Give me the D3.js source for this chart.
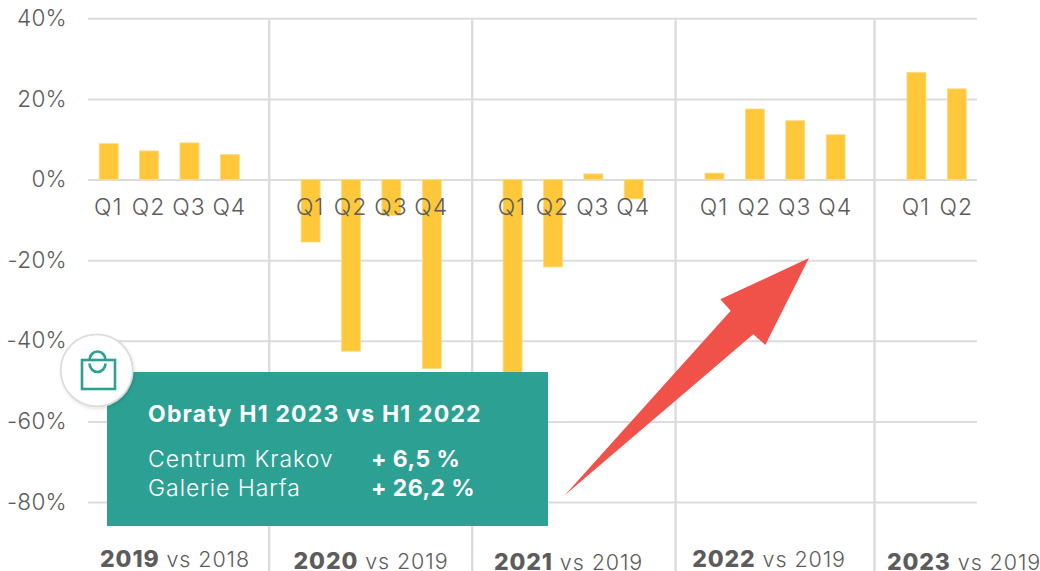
<!DOCTYPE html>
<html><head><meta charset="utf-8">
<script src="https://cdn.jsdelivr.net/npm/d3@7"></script>
<style>html,body{margin:0;padding:0;background:#fff}svg{display:block}text{font-family:Inter,sans-serif}</style>
</head><body><svg id="c" width="1040" height="571"></svg>
<script>
const years = ["2019","2020","2021","2022","2023"];
const compare = ["vs 2018","vs 2019","vs 2019","vs 2019","vs 2019"];
const quarters = ["Q1","Q2","Q3","Q4"];
const v2019 = [8.9,7.1,9.1,6.2];
const v2020 = [-15.5,-42.6,-8.9,-46.9];
const v2021 = [-50.0,-21.7,1.4,-4.8];
const v2022 = [1.6,17.5,14.6,11.1];
const v2023 = [26.6,22.5];
const yTicks = [40,20,0,-20,-40,-60,-80];
const boxTitle = "Obraty H1 2023 vs H1 2022";
const boxNames = ["Centrum Krakov","Galerie Harfa"];
const boxValues = ["+ 6,5 %","+ 26,2 %"];

const allValues = [v2019,v2020,v2021,v2022,v2023];
const slots = [];
const bars = [];
allValues.forEach((vals,i)=>{
  vals.forEach((v,q)=>{const k=years[i]+quarters[q];slots.push(k);bars.push({k,v});});
  if(i<allValues.length-1) slots.push("gap"+years[i]);
});
const svg = d3.select("#c");
const defs = svg.append("defs");
const f = defs.append("filter").attr("id","sh").attr("x","-30%").attr("y","-30%").attr("width","160%").attr("height","160%");
f.append("feDropShadow").attr("dx",1).attr("dy",1.5).attr("stdDeviation",1.5).attr("flood-color","#000").attr("flood-opacity",0.12);
const x = d3.scaleBand().domain(slots).range([88.5,977]);
const y = d3.scaleLinear().domain([40,-80]).range([18.3,502]);
const grid="#dcdcdc", ink="#5c5c5c", teal="#2ca093";

// horizontal grid + y labels
const ya = svg.append("g").attr("transform","translate(88,0)")
  .call(d3.axisLeft(y).tickValues(yTicks).tickFormat(d=>d+"%").tickSize(-889).tickPadding(21));
ya.select(".domain").remove();
ya.selectAll("line").attr("stroke",grid).attr("stroke-width",2);
ya.selectAll("text").attr("fill",ink).attr("font-size",22.5).attr("font-weight",300).attr("dy","0.32em").attr("letter-spacing",0.3);

// vertical separators
const sepNudge=[-1,0,1.5,-1.5];
svg.append("g").selectAll("line").data(years.slice(0,4)).join("line")
  .attr("x1",(d,i)=>x("gap"+d)+x.bandwidth()/2+sepNudge[i])
  .attr("x2",(d,i)=>x("gap"+d)+x.bandwidth()/2+sepNudge[i])
  .attr("y1",18).attr("y2",571).attr("stroke",grid).attr("stroke-width",2.4);

// bars
svg.append("g").selectAll("rect").data(bars).join("rect")
  .attr("x",d=>x(d.k)+x.bandwidth()/2-9.5)
  .attr("width",19)
  .attr("y",d=>y(Math.max(d.v,0)))
  .attr("height",d=>Math.abs(y(d.v)-y(0)))
  .attr("fill","#fec83a").attr("stroke","#fbdc8a").attr("stroke-width",0.8);

// quarter labels
const xa = svg.append("g").attr("transform","translate(0,201)")
  .call(d3.axisBottom(x).tickValues(bars.map(d=>d.k)).tickFormat(d=>d.slice(4)).tickSize(0).tickPadding(0));
xa.select(".domain").remove();
xa.selectAll("text").attr("fill",ink).attr("font-size",23).attr("font-weight",300).attr("dy","0.62em").attr("dx",-0.5).attr("letter-spacing",1);

// year labels
const yearCx=[175,371,568.5,769,964], yearBase=[567,569,570,567,570];
const yl = svg.append("g").selectAll("text").data(years).join("text")
  .attr("x",(d,i)=>yearCx[i]).attr("y",(d,i)=>yearBase[i]).attr("text-anchor","middle")
  .attr("fill",ink).attr("font-size",21.5).attr("font-weight",300).attr("letter-spacing",0.9);
yl.append("tspan").attr("font-weight",800).attr("font-size",23).text(d=>d);
yl.append("tspan").text((d,i)=>" "+compare[i]);

// arrow
const arrow=[[809,258],[720.3,299.3],[730.7,310.7],[565,495],[753.3,334.3],[765.3,345]];
svg.append("path").attr("d",d3.line()(arrow)+"Z").attr("fill","#f0524a");

// info box
svg.append("rect").attr("x",107).attr("y",372).attr("width",441).attr("height",154).attr("fill",teal);
svg.append("text").attr("x",148).attr("y",422).attr("fill","#fff").attr("font-weight",700).attr("font-size",23).attr("letter-spacing",1.2).text(boxTitle);
svg.append("g").selectAll("text").data(boxNames).join("text")
  .attr("x",148).attr("y",(d,i)=>467+i*29).attr("fill","#fff").attr("font-size",23).attr("font-weight",300).attr("letter-spacing",0.95).text(d=>d);
svg.append("g").selectAll("text").data(boxValues).join("text")
  .attr("x",371).attr("y",(d,i)=>467+i*29).attr("fill","#fff").attr("font-size",23).attr("font-weight",700).attr("letter-spacing",0.4).text(d=>d);

// badge
svg.append("circle").attr("cx",96.7).attr("cy",370.3).attr("r",36).attr("fill","#fff")
  .attr("stroke",grid).attr("stroke-width",1.8).attr("filter","url(#sh)");
const bag=svg.append("g").attr("fill","none").attr("stroke",teal).attr("stroke-width",2.6);
bag.append("rect").attr("x",82).attr("y",360).attr("width",33).attr("height",29);
bag.append("path").attr("d","M89.5 360 A8 8.5 0 0 1 105.5 360");
bag.append("path").attr("d","M89.5 363.5 A8 8.5 0 0 0 105.5 363.5");
</script></body></html>
